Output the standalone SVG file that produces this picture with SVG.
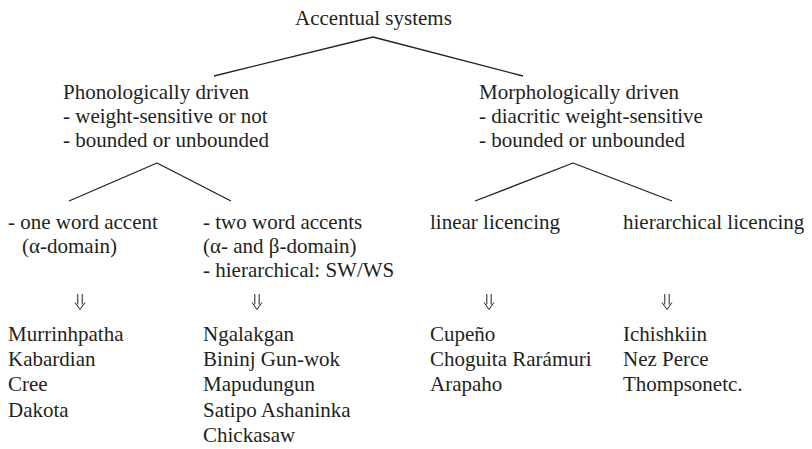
<svg xmlns="http://www.w3.org/2000/svg" width="812" height="449" viewBox="0 0 812 449">
<style>
text{font-family:"Liberation Serif","Times New Roman",serif;font-size:21px;fill:#231f20}
line{stroke:#231f20;stroke-width:1.3}
.dbl{fill:none;stroke:#231f20;stroke-width:1;stroke-linejoin:miter}
</style>
<defs>
<path id="darr" class="dbl" d="M-2.2 0V10.5M2.2 0V10.5M-5 8.5L0 15.5L5 8.5"/>
</defs>
<rect width="812" height="449" fill="#fff"/>
<g id="connectors">
<line x1="373" y1="37" x2="214" y2="76"/>
<line x1="373" y1="37" x2="523" y2="76"/>
<line x1="157" y1="163" x2="69" y2="201"/>
<line x1="157" y1="163" x2="231" y2="201"/>
<line x1="573" y1="163" x2="475" y2="201"/>
<line x1="573" y1="163" x2="672" y2="201"/>
<use href="#darr" x="80" y="294"/>
<use href="#darr" x="257" y="294"/>
<use href="#darr" x="489" y="294"/>
<use href="#darr" x="667" y="294"/>
</g>
<g id="root"><text x="295" y="25">Accentual systems</text></g>
<g id="phon">
<text x="63" y="99">Phonologically driven</text>
<text x="63" y="123">- weight-sensitive or not</text>
<text x="63" y="147">- bounded or unbounded</text>
</g>
<g id="morph">
<text x="479" y="99">Morphologically driven</text>
<text x="479" y="123">- diacritic weight-sensitive</text>
<text x="479" y="147">- bounded or unbounded</text>
</g>
<g id="one">
<text x="8" y="229">- one word accent</text>
<text x="22" y="253">(α-domain)</text>
</g>
<g id="two">
<text x="203" y="229">- two word accents</text>
<text x="203" y="253">(α- and β-domain)</text>
<text x="203" y="277">- hierarchical: SW/WS</text>
</g>
<g id="linear"><text x="430" y="229">linear licencing</text></g>
<g id="hier"><text x="623" y="229">hierarchical licencing</text></g>
<g id="list-one">
<text x="8" y="341">Murrinhpatha</text>
<text x="8" y="366">Kabardian</text>
<text x="8" y="391">Cree</text>
<text x="8" y="417">Dakota</text>
</g>
<g id="list-two">
<text x="203" y="341">Ngalakgan</text>
<text x="203" y="366">Bininj Gun-wok</text>
<text x="203" y="391">Mapudungun</text>
<text x="203" y="417">Satipo Ashaninka</text>
<text x="203" y="442">Chickasaw</text>
</g>
<g id="list-linear">
<text x="430" y="341">Cupeño</text>
<text x="430" y="366">Choguita Rarámuri</text>
<text x="430" y="391">Arapaho</text>
</g>
<g id="list-hier">
<text x="623" y="341">Ichishkiin</text>
<text x="623" y="366">Nez Perce</text>
<text x="623" y="391">Thompsonetc.</text>
</g>
</svg>
